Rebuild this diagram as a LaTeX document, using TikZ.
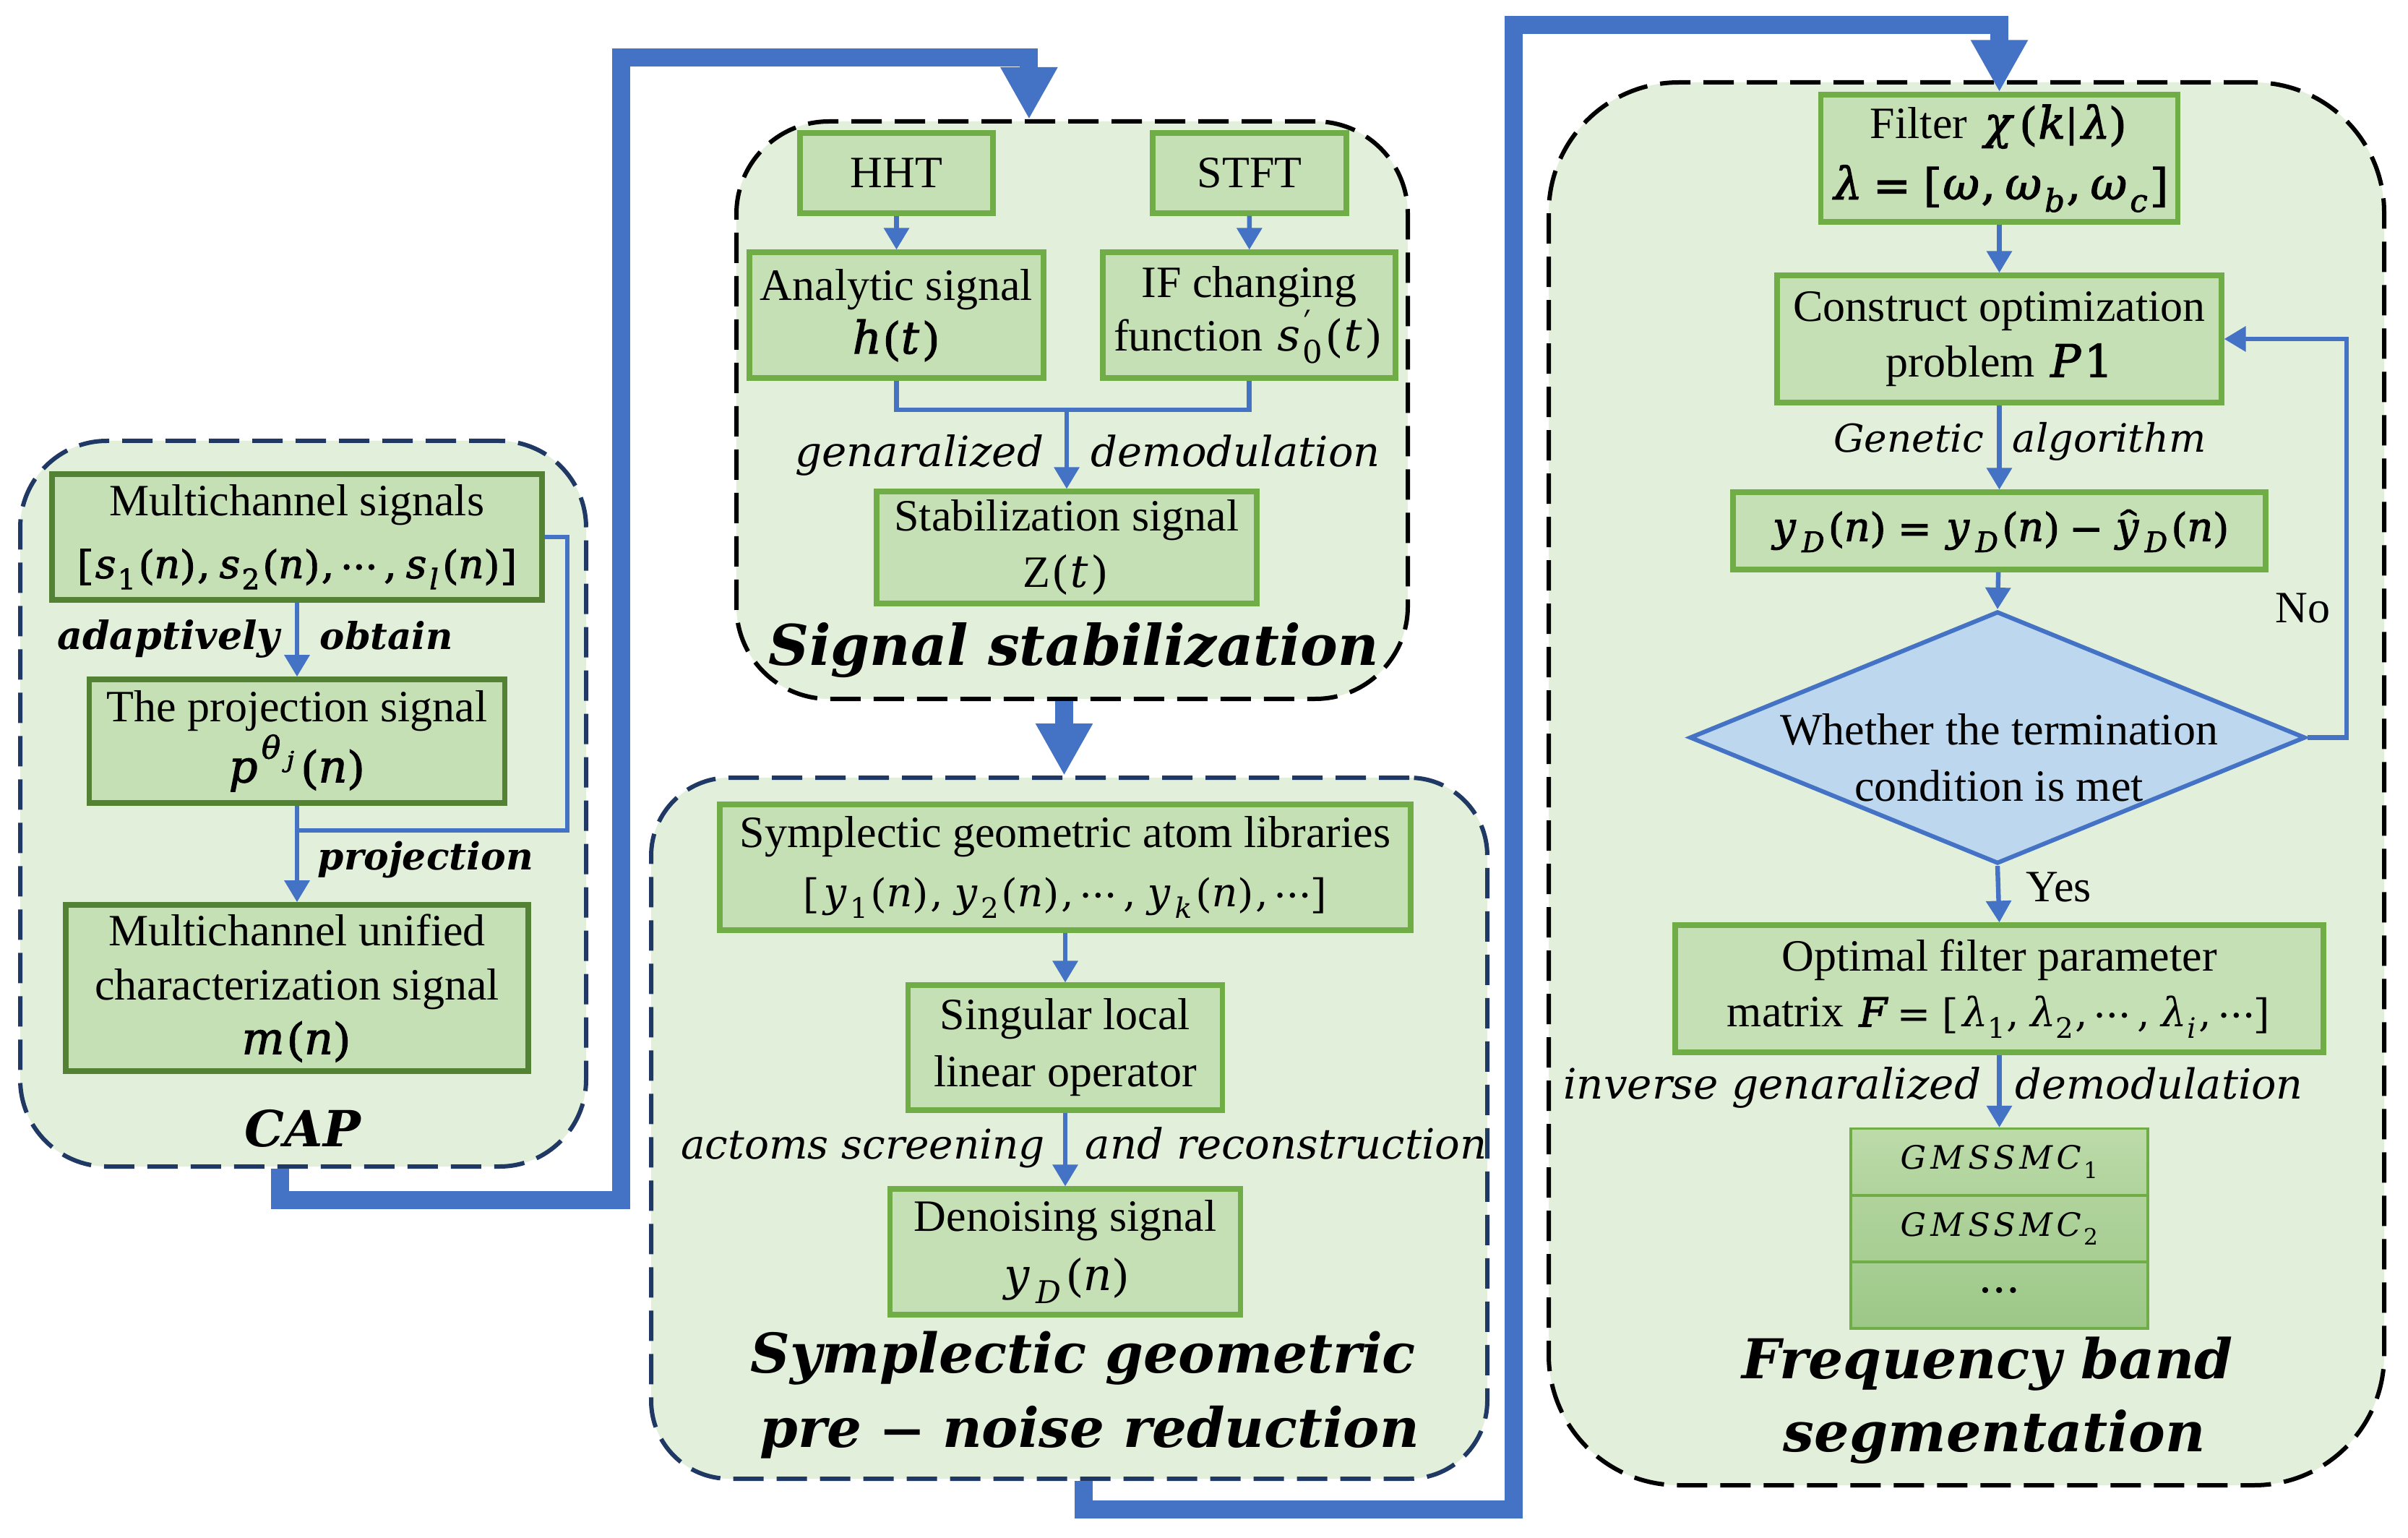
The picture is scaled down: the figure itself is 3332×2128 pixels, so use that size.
\documentclass[tikz,border=0pt]{standalone}
\usepackage{amsmath}
\usepackage{graphicx}
\usepackage{unicode-math}
\setmainfont{Liberation Serif}
\setmathfont{DejaVu Math TeX Gyre}
\setmathfont{DejaVu Math TeX Gyre}[version=bold, FakeBold=2]
\newfontfamily\djv{DejaVu Serif}
\usetikzlibrary{arrows.meta,shapes.geometric}
\definecolor{grpfill}{HTML}{E2EFDA}
\definecolor{boxfill}{HTML}{C5E0B4}
\definecolor{boxgreen}{HTML}{70AD47}
\definecolor{capgreen}{HTML}{548235}
\definecolor{navy}{HTML}{1F3864}
\definecolor{flow}{HTML}{4472C4}
\definecolor{diafill}{HTML}{BDD7EE}
\definecolor{gA}{HTML}{BCDBA9}
\definecolor{gB}{HTML}{B0D39C}
\definecolor{gC}{HTML}{A7CE93}
\definecolor{gD}{HTML}{9CC787}
\newcommand{\fitto}[2]{\resizebox{#1}{!}{#2}}
\newcommand{\msz}[1]{\fontsize{15.5pt}{#1}\selectfont}
\begin{document}
\begin{tikzpicture}[x=0.25pt,y=-0.25pt,
  grp/.style={dash pattern=on 10.5pt off 4.5pt, line width=1.5pt, fill=grpfill, inner sep=0pt},
  box/.style={draw=boxgreen, line width=1.8pt, fill=boxfill, inner sep=0pt, align=center, font=\msz{19.5pt}},
  capbox/.style={box, draw=capgreen, line width=1.9pt},
  cell/.style={draw=boxgreen, line width=0.8pt, inner sep=0pt, minimum width=102.75pt, minimum height=23pt, font=\msz{19.5pt}},
  flowline/.style={draw=flow, line width=1.6pt, -{Triangle[width=8.5pt,length=7.5pt]}},
  plainline/.style={draw=flow, line width=1.6pt},
  bigflow/.style={draw=flow, line width=6.25pt, line join=miter, -{Triangle[width=18.5pt,length=18pt]}},
  ttl/.style={inner sep=0pt, font=\djv\bfseries\itshape},
  ilbl/.style={inner sep=0pt, font=\djv\itshape},
  txt/.style={inner sep=0pt, font=\msz{19.5pt}},
]
\useasboundingbox (0,0) rectangle (3332,2128);

% ---------- groups ----------
\node[grp, draw=navy, rounded corners=30pt, minimum width=195.75pt, minimum height=251pt] (cap) at (419.5,1112) {};
\node[grp, draw=black, rounded corners=32pt, minimum width=232.25pt, minimum height=199.75pt] (stab) at (1483.5,567.5) {};
\node[grp, draw=navy, rounded corners=27pt, minimum width=289.25pt, minimum height=242.5pt] (pre) at (1479.5,1561) {};
\node[grp, draw=black, rounded corners=45pt, minimum width=289pt, minimum height=485.25pt] (freq) at (2721,1084.5) {};

% ---------- CAP ----------
\node[capbox, font=\msz{21.5pt}, minimum width=169.5pt, minimum height=43.5pt] (b1) at (411,743)
  {Multichannel signals\\ \fitto{153pt}{\boldmath$[s_1(n),s_2(n),\cdots,s_l(n)]$}};
\node[capbox, font=\msz{17pt}, minimum width=143.75pt, minimum height=42.75pt] (b2) at (411,1025.5)
  {The projection signal\\ {\boldmath$p^{\theta_j}(n)$}};
\node[capbox, font=\msz{18.75pt}, minimum width=160pt, minimum height=57.5pt] (b3) at (411,1367)
  {Multichannel unified\\ characterization signal\\ {\boldmath$m(n)$}};
\coordinate (j1) at (411,1149);
\draw[flowline] (b1) -- (b2);
\draw[flowline] (b2) -- (b3);
\draw[plainline] (b1.east) -- ++(31,0) |- (j1);
\node[ttl, anchor=base east] (l1a) at (388,898) {\fitto{77pt}{adaptively}};
\node[ttl, anchor=base west] (l1b) at (442,898) {\fitto{46pt}{obtain}};
\node[ttl, anchor=base west] (l2) at (439,1203) {\fitto{74.5pt}{projection}};
\node[ttl, anchor=base] (capt) at (419,1586) {\fitto{40pt}{CAP}};

% ---------- Signal stabilization ----------
\node[box, minimum width=66.75pt, minimum height=27.75pt] (hht) at (1240.5,239.5) {HHT};
\node[box, minimum width=67pt, minimum height=27.75pt] (stft) at (1729,239.5) {STFT};
\node[box, font=\msz{18.5pt}, minimum width=101.75pt, minimum height=43.5pt] (ana) at (1240.5,436)
  {Analytic signal\\ {\boldmath$h(t)$}};
\node[box, font=\msz{18.5pt}, minimum width=101.25pt, minimum height=43.5pt] (iff) at (1728.5,436)
  {IF changing\\ function $s'_0(t)$};
\node[box, minimum width=131.5pt, minimum height=38.75pt] (stb) at (1476,757.5)
  {Stabilization signal\\ $\mathrm{Z}(t)$};
\coordinate (m1) at (1476,567);
\draw[flowline] (hht) -- (ana);
\draw[flowline] (stft) -- (iff);
\draw[plainline] (ana.south) |- (m1);
\draw[plainline] (iff.south) |- (m1);
\draw[flowline] (m1) -- (stb.north);
\node[ilbl, anchor=base east] (l3a) at (1445,646) {\fitto{86pt}{genaralized}};
\node[ilbl, anchor=base west] (l3b) at (1509,646) {\fitto{100pt}{demodulation}};
\node[ttl, anchor=base] (stabt) at (1486,920) {\fitto{211pt}{Signal stabilization}};

% ---------- Symplectic geometric pre-noise reduction ----------
\node[box, font=\msz{20.5pt}, minimum width=239pt, minimum height=43.5pt] (sga) at (1474,1200)
  {Symplectic geometric atom libraries\\ \fitto{182pt}{$[y_1(n),y_2(n),\cdots,y_k(n),\cdots]$}};
\node[box, font=\msz{19.75pt}, minimum width=108.75pt, minimum height=43.25pt] (sllo) at (1474,1449.5)
  {Singular local\\ linear operator};
\node[box, font=\msz{20.5pt}, minimum width=121.25pt, minimum height=43.5pt] (den) at (1474,1732)
  {Denoising signal\\ $y_D(n)$};
\draw[flowline] (sga) -- (sllo);
\draw[flowline] (sllo) -- (den);
\node[ilbl, anchor=base east] (l4a) at (1447,1603) {\fitto{126pt}{actoms screening}};
\node[ilbl, anchor=base west] (l4b) at (1501,1603) {\fitto{139pt}{and reconstruction}};
\node[ttl, anchor=base] (pt1) at (1499,1899) {\fitto{230pt}{Symplectic geometric}};
\node[ttl, anchor=base] (pt2) at (1508,2002) {\fitto{228pt}{pre {\boldmath$-$} noise reduction}};

% ---------- Frequency band segmentation ----------
\node[box, font=\msz{21pt}, minimum width=123.5pt, minimum height=44pt] (filt) at (2766.5,219)
  {Filter {\boldmath$\chi(k|\lambda)$}\\ {\boldmath$\lambda=[\omega,\omega_b,\omega_c]$}};
\node[box, font=\msz{19.25pt}, minimum width=153.75pt, minimum height=44pt] (cons) at (2766.5,469)
  {Construct optimization\\ problem {\boldmath$P1$}};
\node[box, minimum width=184.25pt, minimum height=26.75pt] (yd) at (2766.5,734.5)
  {\fitto{160pt}{\boldmath$y_D(n)=y_D(n)-\hat{y}_D(n)$}};
\node[diamond, draw=flow, line width=1.5pt, fill=diafill, inner sep=0pt, minimum width=213pt, minimum height=87.25pt] (dia) at (2764,1020.5) {};
\node[txt, align=center] (diat) at (2766,1048) {Whether the termination\\ condition is met};
\node[box, font=\msz{19.25pt}, minimum width=224.25pt, minimum height=44pt] (opt) at (2766.5,1368)
  {Optimal filter parameter\\ matrix \fitto{144pt}{{\boldmath$F$}$\,=[\lambda_1,\lambda_2,\cdots,\lambda_i,\cdots]$}};
\node[cell, top color=gA, bottom color=gB] (g1) at (2766.5,1607.5) {\fitto{69pt}{$GMSSMC_1$}};
\node[cell, top color=gB, bottom color=gC] (g2) at (2766.5,1700) {\fitto{69pt}{$GMSSMC_2$}};
\node[cell, top color=gC, bottom color=gD] (g3) at (2766.5,1792) {$\cdots$};
\draw[flowline] (filt) -- (cons);
\draw[flowline] (cons) -- (yd);
\draw[flowline] (yd) -- (dia.north);
\draw[flowline] (dia.south) -- (opt.north);
\draw[flowline] (opt.south) -- (g1.north);
\draw[flowline] (dia.east) -- ++(54,0) |- (cons.east);
\node[txt, anchor=base west] (no) at (3148,861) {No};
\node[txt, anchor=base west] (yes) at (2803,1247) {Yes};
\node[ilbl, anchor=base east] (l5a) at (2746,626) {\fitto{52pt}{Genetic}};
\node[ilbl, anchor=base west] (l5b) at (2784,626) {\fitto{67pt}{algorithm}};
\node[ilbl, anchor=base east] (l6a) at (2742,1520) {\fitto{144.5pt}{inverse genaralized}};
\node[ilbl, anchor=base west] (l6b) at (2788,1520) {\fitto{99.5pt}{demodulation}};
\node[ttl, anchor=base] (ft1) at (2750,1907) {\fitto{170pt}{Frequency band}};
\node[ttl, anchor=base] (ft2) at (2760,2008) {\fitto{146pt}{segmentation}};

% ---------- thick connectors between stages ----------
\coordinate (k1) at (859,1660);
\coordinate (k2) at (859,80);
\draw[bigflow] ([xshift=-8.1pt]cap.south) |- (k1) -- (k2) -| ([xshift=-14.9pt]stab.north);
\draw[bigflow] ([xshift=-2.75pt]stab.south) -- ([xshift=-2.75pt]stab.south |- pre.north);
\coordinate (k3) at (2094,2088);
\coordinate (k4) at (2094,35);
\draw[bigflow] ([xshift=5.1pt]pre.south) |- (k3) -- (k4) -| (filt.north);
\end{tikzpicture}
\end{document}
